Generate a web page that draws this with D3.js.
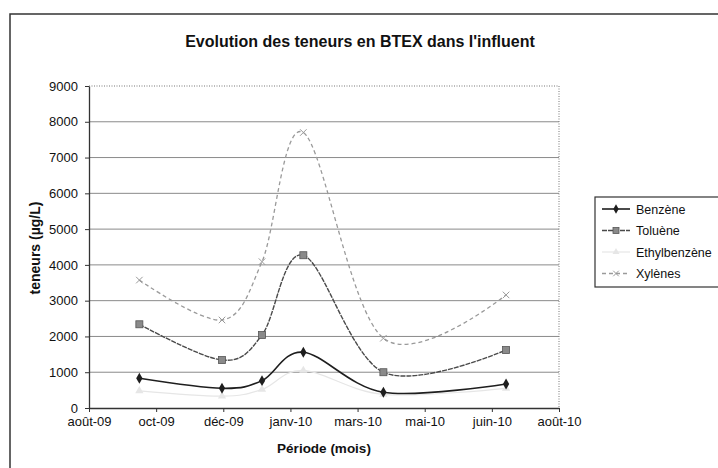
<!DOCTYPE html>
<html lang="fr">
<head>
    <meta charset="UTF-8">
    <title>BTEX influent</title>
    <script src="https://cdn.jsdelivr.net/npm/d3@7"></script>
    <style>
        body{margin:0;background:#fff}
        text{font-family:"Liberation Sans",Arial,sans-serif;fill:#111}
    </style>
</head>
<body>
<svg id="chart" width="718" height="468"></svg>
<script>
    // sampling dates and values (µg/L)
    let dates=["2009-09-28","2009-12-01","2010-01-01","2010-02-02","2010-04-05","2010-07-09"]
    let benzene=[830,550,765,1560,440,670]
    let toluene=[2340,1340,2040,4270,1000,1620]
    let ethylbenzene=[480,330,520,1050,380,550]
    let xylenes=[3575,2460,4090,7700,1950,3160]
    let seriesNames=["Benzène","Toluène","Ethylbenzène","Xylènes"]

    let xTicks=["2009-08-20","2009-10-11","2009-12-02","2010-01-23","2010-03-16","2010-05-07","2010-06-28","2010-08-19"]
    let xTickLabels=["août-09","oct-09","déc-09","janv-10","mars-10","mai-10","juin-10","août-10"]
    let yTicks=[0,1000,2000,3000,4000,5000,6000,7000,8000,9000]

    let svg=d3.select("#chart")
    let parse=d3.timeParse("%Y-%m-%d")
    let L=89,R=559,T=86,B=408

    // outer frame
    svg.append("rect").attr("x",10).attr("y",14).attr("width",740).attr("height",480)
        .attr("fill","none").attr("stroke","#333").attr("stroke-width",1.5)

    svg.append("text").attr("x",360).attr("y",47).attr("text-anchor","middle")
        .style("font-size","16px").style("font-weight","bold")
        .text("Evolution des teneurs en BTEX dans l'influent")

    let x=d3.scaleTime().domain([parse(xTicks[0]),parse(xTicks[xTicks.length-1])]).range([L,R])
    let y=d3.scaleLinear().domain([0,9000]).range([B,T])

    // gridlines
    svg.append("g").selectAll("line").data(yTicks.slice(1,-1)).enter().append("line")
        .attr("x1",L).attr("x2",R).attr("y1",d=>y(d)).attr("y2",d=>y(d))
        .attr("stroke","#8a8a8a").attr("stroke-width",1)

    // plot area border (top + right dotted)
    svg.append("path").attr("d","M"+L+","+T+"H"+R+"V"+B)
        .attr("fill","none").attr("stroke","#777").attr("stroke-dasharray","1,1.5")

    let xaxis=d3.axisBottom(x).tickValues(xTicks.map(parse))
        .tickFormat((d,i)=>xTickLabels[i]).tickSizeInner(4).tickSizeOuter(0).tickPadding(5)
    let gx=svg.append("g").attr("transform","translate(0,"+B+")").call(xaxis)
    let yaxis=d3.axisLeft(y).tickValues(yTicks).tickFormat(d3.format("d")).tickSizeInner(4).tickSizeOuter(0).tickPadding(7)
    let gy=svg.append("g").attr("transform","translate("+L+",0)").call(yaxis)
    gx.selectAll("text").style("font-size","13px").attr("fill","#111")
    gy.selectAll("text").style("font-size","13px").attr("fill","#111")
    svg.selectAll(".domain").attr("stroke","#333").attr("stroke-width",1.3)
    svg.selectAll(".tick line").attr("stroke","#333")

    svg.append("text").attr("transform","translate(40,248) rotate(-90)").attr("text-anchor","middle")
        .style("font-size","14px").style("font-weight","bold").text("teneurs (µg/L)")
    svg.append("text").attr("x",324).attr("y",453).attr("text-anchor","middle")
        .style("font-size","13.5px").style("font-weight","bold").text("Période (mois)")

    let series=[
        {name:seriesNames[0],values:benzene,color:"#1e1e1e",dash:null,w:1.6,marker:"diamond",mfill:"#1e1e1e"},
        {name:seriesNames[1],values:toluene,color:"#4a4a4a",dash:"5,1",w:1.4,marker:"square",mfill:"#8a8a8a"},
        {name:seriesNames[2],values:ethylbenzene,color:"#e6e6e6",dash:null,w:1.2,marker:"triangle",mfill:"#e6e6e6"},
        {name:seriesNames[3],values:xylenes,color:"#9a9a9a",dash:"4,3",w:1.3,marker:"x",mfill:"none"}
    ]

    let line=d3.line().curve(d3.curveCardinal.tension(0))
        .x((d,i)=>x(parse(dates[i]))).y(d=>y(d))

    function marker(g,type,s,color,fill){
        if(type=="diamond") g.append("path").attr("d",d3.symbol(d3.symbolDiamond,s*s*0.7)()).attr("fill",fill)
        else if(type=="square") g.append("rect").attr("x",-s/2).attr("y",-s/2).attr("width",s).attr("height",s)
            .attr("fill",fill).attr("stroke","#555").attr("stroke-width",0.8)
        else if(type=="triangle") g.append("path").attr("d",d3.symbol(d3.symbolTriangle,s*s*0.6)()).attr("fill",fill)
        else g.append("path").attr("d",d3.symbol(d3.symbolX,s*s*0.6)()).attr("fill","none").attr("stroke",color).attr("stroke-width",1)
    }

    // draw faint series first
    let order=[2,3,1,0]
    order.forEach(k=>{
        let s=series[k]
        svg.append("path").attr("d",line(s.values)).attr("fill","none")
            .attr("stroke",s.color).attr("stroke-width",s.w).attr("stroke-dasharray",s.dash)
        s.values.forEach((v,i)=>{
            let g=svg.append("g").attr("transform","translate("+x(parse(dates[i]))+","+y(v)+")")
            marker(g,s.marker,7,s.color,s.mfill)
        })
    })

    // legend
    let lg=svg.append("g").attr("transform","translate(595,197)")
    lg.append("rect").attr("width",140).attr("height",90).attr("fill","#fff").attr("stroke","#333").attr("stroke-width",1.2)
    series.forEach((s,i)=>{
        let yy=12+i*21.5
        lg.append("line").attr("x1",7).attr("x2",35).attr("y1",yy).attr("y2",yy)
            .attr("stroke",s.color).attr("stroke-width",s.w).attr("stroke-dasharray",s.dash)
        let g=lg.append("g").attr("transform","translate(21,"+yy+")")
        marker(g,s.marker,6,s.color,s.mfill)
        lg.append("text").attr("x",41).attr("y",yy+4.5).style("font-size","12.5px").text(s.name)
    })
</script>
</body>
</html>
